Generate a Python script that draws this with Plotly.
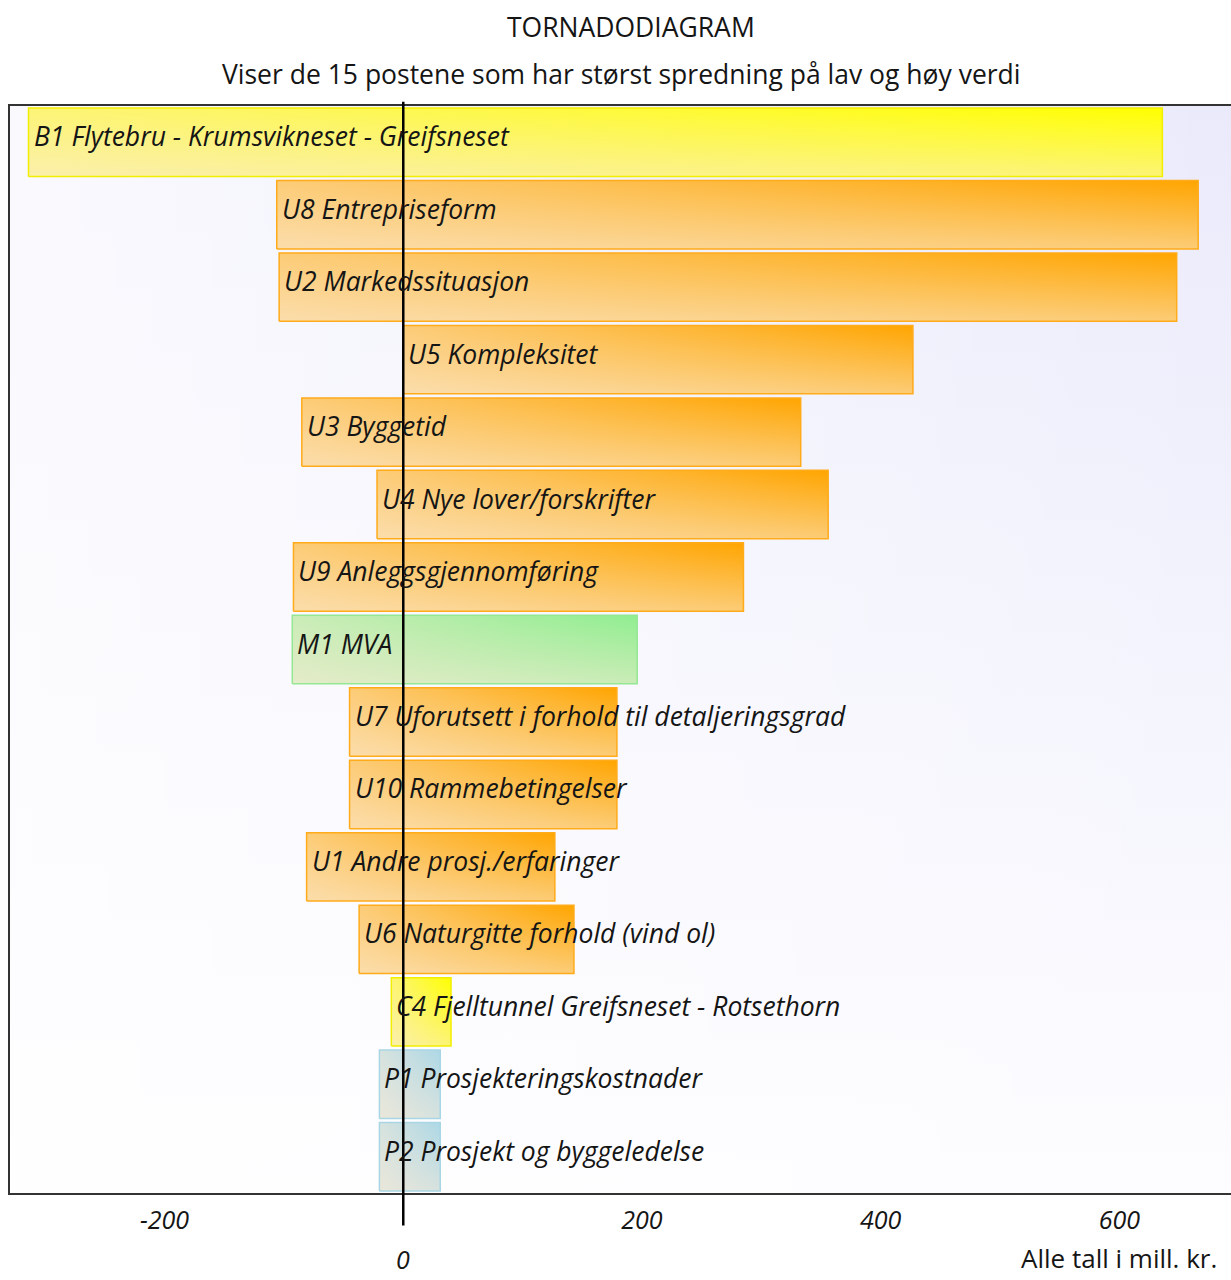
import plotly.graph_objects as go

# ---- data ----
labels = [
    "B1 Flytebru - Krumsvikneset - Greifsneset",
    "U8 Entrepriseform",
    "U2 Markedssituasjon",
    "U5 Kompleksitet",
    "U3 Byggetid",
    "U4 Nye lover/forskrifter",
    "U9 Anleggsgjennomføring",
    "M1 MVA",
    "U7 Uforutsett i forhold til detaljeringsgrad",
    "U10 Rammebetingelser",
    "U1 Andre prosj./erfaringer",
    "U6 Naturgitte forhold (vind ol)",
    "C4 Fjelltunnel Greifsneset - Rotsethorn",
    "P1 Prosjekteringskostnader",
    "P2 Prosjekt og byggeledelse",
]
low = [-314, -106, -104, 0, -85, -22, -92, -93, -45, -45, -81, -37, -10, -20, -20]
high = [636, 666, 648, 427, 333, 356, 285, 196, 179, 179, 127, 143, 40, 31, 31]
groups = ["B", "U", "U", "U", "U", "U", "U", "M", "U", "U", "U", "U", "C", "P", "P"]
tick_vals = [-200, 200, 400, 600]
tick_text = ["-200", "200", "400", "600"]
x_range = [-329.5, 693.5]

# ---- style ----
FONT = "Open Sans"
PALE = (250, 235, 215)  # antiquewhite
group_color = {
    "B": (255, 255, 0),
    "U": (255, 165, 0),
    "M": (144, 238, 144),
    "C": (255, 255, 0),
    "P": (173, 216, 230),
}
group_line = {
    "B": "#f2ee00",
    "U": "#ffab1a",
    "M": "#94e894",
    "C": "#f2ee00",
    "P": "#a9d6e4",
}


def rgb(c, a=None):
    if a is None:
        return "rgb(%d,%d,%d)" % c
    return "rgba(%d,%d,%d,%.3f)" % (c[0], c[1], c[2], a)


def mix(a, b, t):
    return tuple(round(a[i] * (1 - t) + b[i] * t) for i in range(3))


HALF = 0.472
n = len(labels)
ypos = [n - 1 - i for i in range(n)]

fig = go.Figure()

# plot-area background gradient
bx = [x_range[0], x_range[1], x_range[1], x_range[0], x_range[0]]
by = [-0.5, -0.5, n - 0.5, n - 0.5, -0.5]
fig.add_trace(go.Scatter(
    x=bx, y=by, mode="lines", fill="toself", line=dict(width=0),
    fillgradient=dict(type="vertical", colorscale=[[0, "#fdfdff"], [1, "#eaeafb"]]),
    hoverinfo="skip", showlegend=False))
fig.add_trace(go.Scatter(
    x=bx, y=by, mode="lines", fill="toself", line=dict(width=0),
    fillgradient=dict(type="horizontal",
                      colorscale=[[0, "rgba(255,255,255,0.7)"], [1, "rgba(255,255,255,0)"]]),
    hoverinfo="skip", showlegend=False))

for i in range(n):
    lo, hi, y, g = low[i], high[i], ypos[i], groups[i]
    c = group_color[g]
    xs = [lo, hi, hi, lo, lo]
    ys = [y - HALF, y - HALF, y + HALF, y + HALF, y - HALF]
    fig.add_trace(go.Scatter(
        x=xs, y=ys, mode="lines", fill="toself",
        line=dict(width=0),
        fillgradient=dict(type="vertical",
                          colorscale=[[0, rgb(mix(c, PALE, 0.55))], [1, rgb(c)]]),
        hoverinfo="skip", showlegend=False))
    fig.add_trace(go.Scatter(
        x=xs, y=ys, mode="lines", fill="toself",
        line=dict(width=1.5, color=group_line[g]),
        fillgradient=dict(type="horizontal",
                          colorscale=[[0, rgb(PALE, 0.55)], [1, rgb(PALE, 0.0)]]),
        hoverinfo="skip", showlegend=False))

annotations = []
for i in range(n):
    annotations.append(dict(
        x=low[i], y=ypos[i], xref="x", yref="y", text=labels[i],
        showarrow=False, xanchor="left", yanchor="middle", xshift=3, yshift=6,
        font=dict(family=FONT, size=26.5, color="#151515", style="italic")))

annotations += [
    dict(x=0.5086, y=1.0724, xref="paper", yref="paper", text="TORNADODIAGRAM",
         showarrow=False, xanchor="center", yanchor="middle",
         font=dict(family=FONT, size=26.5, color="#151515")),
    dict(x=0.5012, y=1.029, xref="paper", yref="paper",
         text="Viser de 15 postene som har størst spredning på lav og høy verdi",
         showarrow=False, xanchor="center", yanchor="middle",
         font=dict(family=FONT, size=26.5, color="#151515")),
    dict(x=0, y=-0.0785, xref="x", yref="paper", text="0",
         showarrow=False, xanchor="center", yanchor="bottom",
         font=dict(family=FONT, size=25, color="#151515", style="italic")),
    dict(x=0.990, y=-0.0785, xref="paper", yref="paper", text="Alle tall i mill. kr.",
         showarrow=False, xanchor="right", yanchor="bottom",
         font=dict(family=FONT, size=26, color="#151515")),
]

fig.update_layout(
    width=1231, height=1280,
    margin=dict(l=10, r=0, t=106, b=87),
    paper_bgcolor="white", plot_bgcolor="white",
    showlegend=False,
    annotations=annotations,
    shapes=[dict(type="line", xref="x", yref="paper", x0=0, x1=0,
                 y0=-0.0298, y1=1.0039, line=dict(color="black", width=2.5),
                 layer="above")],
    xaxis=dict(range=x_range, tickvals=tick_vals, ticktext=tick_text,
               showgrid=True, gridcolor="#222", griddash="dot", gridwidth=1,
               zeroline=False, showline=True, linecolor="#333", linewidth=1.5,
               mirror=True, ticks="", ticklabelstandoff=4,
               tickfont=dict(family=FONT, size=25, color="#151515", style="italic")),
    yaxis=dict(range=[-0.5, n - 0.5], showgrid=False, zeroline=False,
               showticklabels=False, showline=True, linecolor="#333",
               linewidth=1.5, mirror=False, ticks=""),
)

fig.write_html("out.html")
